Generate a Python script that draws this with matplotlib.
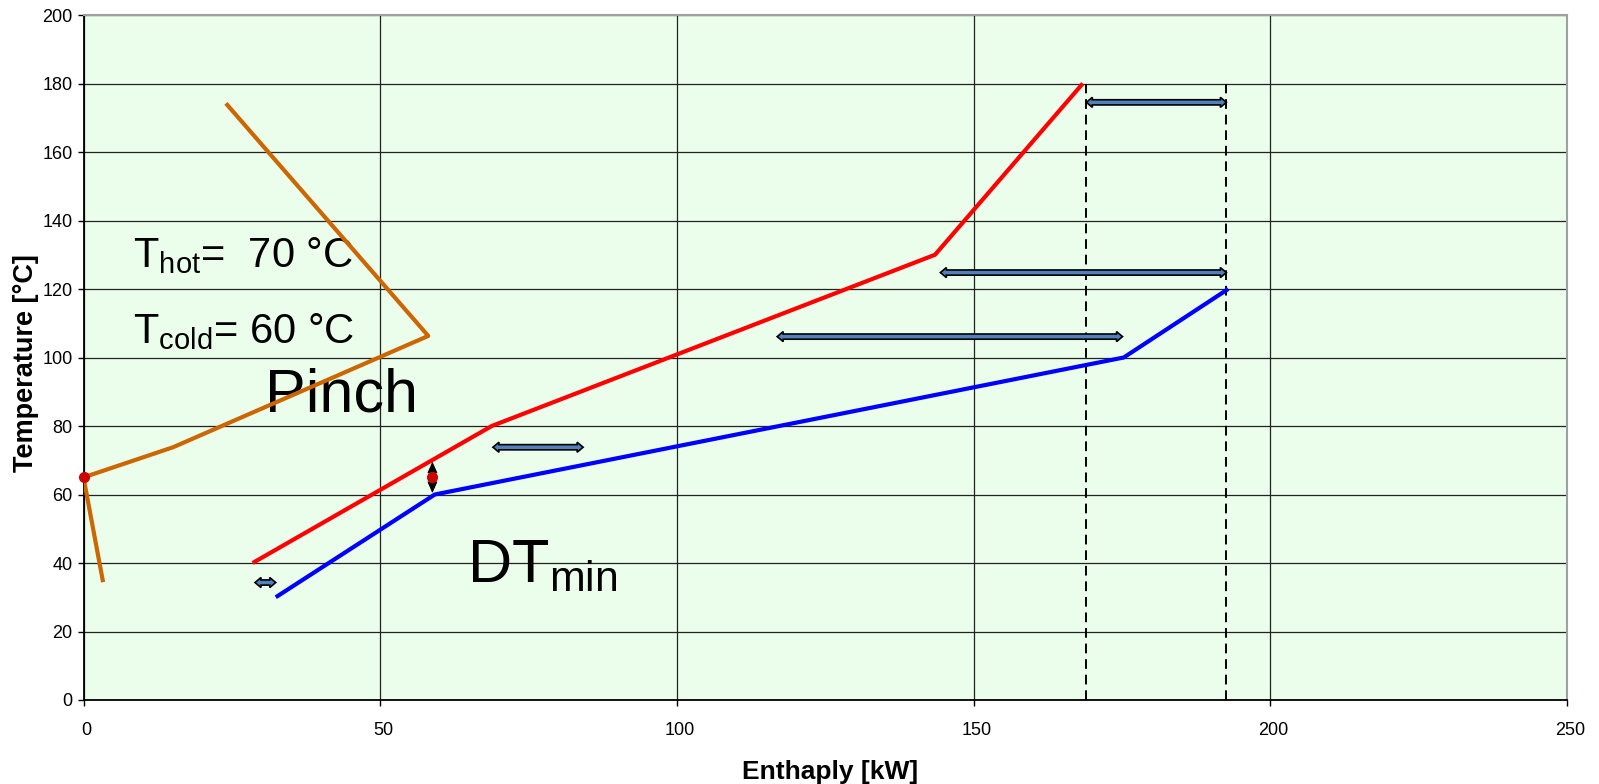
import matplotlib
matplotlib.use("Agg")
import matplotlib.pyplot as plt
from matplotlib.patches import Polygon
from matplotlib.transforms import ScaledTranslation

plt.rcParams['font.family'] = ['Liberation Sans', 'DejaVu Sans']
plt.rcParams['mathtext.fontset'] = 'custom'
plt.rcParams['mathtext.rm'] = 'Liberation Sans'
plt.rcParams['mathtext.it'] = 'Liberation Sans:italic'
plt.rcParams['mathtext.bf'] = 'Liberation Sans:bold'

# ---- data ----
hot_H = [28.5, 68.8, 143.5, 168.4]
hot_T = [40, 80, 130, 180]
cold_H = [32.4, 59.2, 175.3, 192.9]
cold_T = [30, 60, 100, 120]
gcc_H = [24.0, 58.1, 15.1, 0.0, 3.3]
gcc_T = [174.2, 106.3, 73.8, 65.0, 34.4]
pinch_H = [0.0, 58.8]
pinch_T = [65, 65]
dtmin_H = 58.8
dtmin_T = [69.6, 60.4]
dashed_H = [168.9, 192.6]
dashed_T = [0, 180]
arrow_T = [174.5, 124.8, 106.1, 73.8, 34.3]
arrow_H0 = [169.0, 144.4, 116.9, 69.0, 28.9]
arrow_H1 = [192.6, 192.6, 175.1, 84.2, 32.4]
x_ticks = [0, 50, 100, 150, 200, 250]
y_ticks = [0, 20, 40, 60, 80, 100, 120, 140, 160, 180, 200]

W, H = 1599, 784
fig = plt.figure(figsize=(W / 100, H / 100), dpi=100)
L, B, R, T = 83.5, 84, 1567, 769
ax = fig.add_axes([L / W, B / H, (R - L) / W, (T - B) / H])
ax.set_facecolor('#EBFEEB')
ax.set_xlim(0, 250)
ax.set_ylim(0, 200)
ax.set_xticks(x_ticks)
ax.set_yticks(y_ticks)
ax.set_axisbelow(True)
ax.grid(True, color='#222222', lw=0.9)

for s in ['top', 'right']:
    ax.spines[s].set_color('#A0A0A0')
    ax.spines[s].set_linewidth(1.5)
for s in ['left', 'bottom']:
    ax.spines[s].set_color('black')
    ax.spines[s].set_linewidth(1.3)

ax.tick_params(axis='both', labelsize=13, length=4, width=1, color='black')
ax.tick_params(axis='x', pad=12)
ax.tick_params(axis='y', pad=4)
for lab in ax.get_xticklabels():
    lab.set_transform(lab.get_transform() + ScaledTranslation(3 / 100, 0, fig.dpi_scale_trans))

ax.set_xlabel('Enthaply [kW]', fontsize=19, fontweight='bold')
ax.xaxis.set_label_coords(0.5035, -(772 - 700) / 685)
ax.xaxis.label.set_va('center')
ax.set_ylabel('Temperature [°C]', fontsize=19.5, fontweight='bold')
ax.yaxis.set_label_coords(-(83.5 - 26) / 1483.5, 0.492)
ax.yaxis.label.set_va('center')

# texts (under the lines)
ax.text(8.34, 126.4, r'$\mathrm{T_{hot}}$=  70 °C', fontsize=30, va='baseline', ha='left', zorder=1)
ax.text(8.34, 104.2, r'$\mathrm{T_{cold}}$= 60 °C', fontsize=30, va='baseline', ha='left', zorder=1)
ax.text(30.6, 84.1, 'Pinch', fontsize=44, va='baseline', ha='left', zorder=1)
ax.text(64.6, 34.2, r'$\mathrm{DT_{min}}$', fontsize=44, va='baseline', ha='left', zorder=1)

# dashed verticals
for xh in dashed_H:
    ax.plot([xh, xh], dashed_T, color='black', lw=1.4, ls=(0, (5, 3)), zorder=3)

# composite curves
ax.plot(hot_H, hot_T, color='#FF0000', lw=3, solid_capstyle='butt', zorder=4)
ax.plot(cold_H, cold_T, color='#0000FF', lw=3, solid_capstyle='butt', zorder=4)
ax.plot(gcc_H, gcc_T, color='#CC6600', lw=3, solid_capstyle='butt', zorder=4)

# block double arrows
px_x = 250 / (R - L)
px_y = 200 / (T - B)
sh, hh, hl = 2.6, 5.0, 6.0
for y, x0, x1 in zip(arrow_T, arrow_H0, arrow_H1):
    dx = hl * px_x
    pts = [
        (x0, y), (x0 + dx, y + hh * px_y), (x0 + dx, y + sh * px_y),
        (x1 - dx, y + sh * px_y), (x1 - dx, y + hh * px_y), (x1, y),
        (x1 - dx, y - hh * px_y), (x1 - dx, y - sh * px_y),
        (x0 + dx, y - sh * px_y), (x0 + dx, y - hh * px_y),
    ]
    ax.add_patch(Polygon(pts, closed=True, facecolor='#4F81BD', edgecolor='black', lw=1.2, zorder=5))

# DTmin vertical arrow
ax.annotate('', xy=(dtmin_H, dtmin_T[1]), xytext=(dtmin_H, dtmin_T[0]),
            arrowprops=dict(arrowstyle='<|-|>,head_length=0.5,head_width=0.22', color='black',
                            lw=0.8, shrinkA=0, shrinkB=0, mutation_scale=14), zorder=5)

# pinch points
ax.plot(pinch_H, pinch_T, 'o', color='#CC0000', ms=7, zorder=6, clip_on=False)

fig.savefig('out.png', dpi=100)
